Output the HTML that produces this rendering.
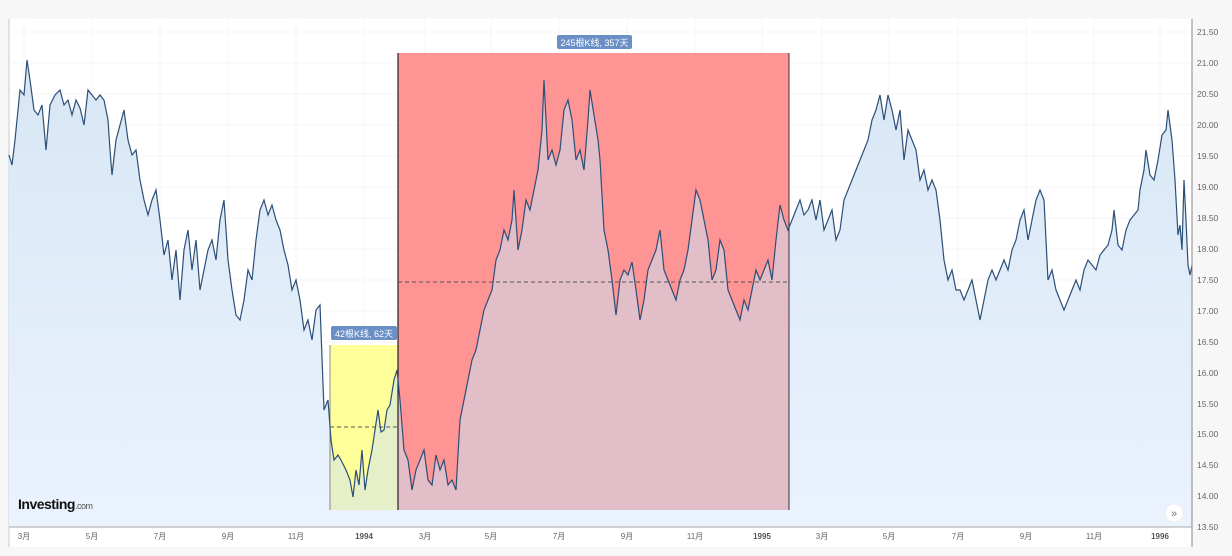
<!DOCTYPE html>
<html><head><meta charset="utf-8"><style>
html,body{margin:0;padding:0;width:1232px;height:556px;background:#f7f7f7;overflow:hidden;font-family:"Liberation Sans","Noto Sans CJK SC",sans-serif}
</style></head><body>
<svg width="1232" height="556" xmlns="http://www.w3.org/2000/svg" style="position:absolute;left:0;top:0">
<defs>
<linearGradient id="g" x1="0" y1="0" x2="0" y2="1"><stop offset="0" stop-color="#d8e6f4"/><stop offset="1" stop-color="#eaf3fe"/></linearGradient>
<clipPath id="cy"><rect x="330" y="345" width="68" height="165"/></clipPath>
<clipPath id="cr"><rect x="398" y="53" width="391" height="457"/></clipPath>
<path id="ln" d="M9,155 L12,165 L15,140 L20,90 L24,95 L27,60 L30,80 L34,110 L38,115 L42,105 L46,150 L50,105 L55,95 L60,90 L64,105 L68,100 L72,115 L76,100 L80,108 L84,125 L88,90 L92,95 L96,100 L100,95 L104,100 L108,120 L110,150 L112,175 L116,140 L120,125 L124,110 L128,140 L132,155 L136,150 L140,180 L144,200 L148,215 L152,200 L156,190 L160,220 L164,255 L168,240 L172,280 L176,250 L180,300 L184,250 L188,230 L192,270 L196,240 L200,290 L204,270 L208,250 L212,240 L216,260 L220,220 L224,200 L228,260 L232,290 L236,315 L240,320 L244,300 L248,270 L252,280 L256,240 L260,210 L264,200 L268,215 L272,205 L276,220 L280,230 L284,250 L288,265 L292,290 L296,280 L300,300 L304,330 L308,320 L312,340 L316,310 L320,305 L324,410 L328,400 L331,440 L334,460 L338,455 L342,462 L346,470 L350,480 L353,497 L356,470 L359,485 L362,450 L365,490 L368,470 L372,450 L375,430 L378,410 L381,432 L384,430 L387,410 L390,405 L394,380 L397,370 L400,400 L404,450 L408,460 L412,490 L416,470 L420,460 L424,450 L428,480 L432,485 L436,455 L440,470 L444,460 L448,485 L452,480 L456,490 L460,420 L464,400 L468,380 L472,360 L476,350 L480,330 L484,310 L488,300 L492,290 L496,260 L500,250 L504,230 L508,240 L512,220 L514,190 L518,250 L522,230 L526,200 L530,210 L534,190 L538,170 L542,130 L544,80 L548,160 L552,150 L556,165 L560,150 L564,110 L568,100 L572,120 L576,160 L580,150 L584,170 L588,120 L590,90 L594,115 L598,140 L600,160 L604,230 L608,250 L612,280 L616,315 L620,280 L624,270 L628,275 L632,262 L636,290 L640,320 L644,300 L648,270 L652,260 L656,250 L660,230 L664,270 L668,280 L672,290 L676,300 L680,280 L684,270 L688,250 L692,220 L696,190 L700,200 L704,220 L708,240 L712,280 L716,270 L720,240 L724,250 L728,290 L732,300 L736,310 L740,320 L744,300 L748,310 L752,290 L756,270 L760,280 L764,270 L768,260 L772,280 L776,240 L780,205 L784,220 L788,230 L792,220 L796,210 L800,200 L804,215 L808,210 L812,200 L816,220 L820,200 L824,230 L828,220 L832,210 L836,240 L840,230 L844,200 L848,190 L852,180 L856,170 L860,160 L864,150 L868,140 L872,120 L876,110 L880,95 L884,120 L888,95 L892,110 L896,130 L900,110 L904,160 L908,130 L912,140 L916,150 L920,180 L924,170 L928,190 L932,180 L936,190 L940,220 L944,260 L948,280 L952,270 L956,290 L960,290 L964,300 L968,290 L972,280 L976,300 L980,320 L984,300 L988,280 L992,270 L996,280 L1000,270 L1004,260 L1008,270 L1012,250 L1016,240 L1020,220 L1024,210 L1028,240 L1032,220 L1036,200 L1040,190 L1044,200 L1048,280 L1052,270 L1056,290 L1060,300 L1064,310 L1068,300 L1072,290 L1076,280 L1080,290 L1084,270 L1088,260 L1092,265 L1096,270 L1100,255 L1104,250 L1108,245 L1112,230 L1114,210 L1118,245 L1122,250 L1126,230 L1130,220 L1134,215 L1138,210 L1140,190 L1144,170 L1146,150 L1150,175 L1154,180 L1158,160 L1162,135 L1166,130 L1168,110 L1172,140 L1175,180 L1178,235 L1180,225 L1182,250 L1184,180 L1186,220 L1188,265 L1190,275 L1192,265"/>
</defs>
<rect x="9" y="19" width="1183" height="528" fill="#fff"/>
<line x1="9" y1="19" x2="9" y2="547" stroke="#dde3ea" stroke-width="2"/>
<g stroke="#f4f4f4" stroke-width="1">
<line x1="9" y1="32" x2="1192" y2="32"/><line x1="9" y1="63" x2="1192" y2="63"/><line x1="9" y1="94" x2="1192" y2="94"/><line x1="9" y1="125" x2="1192" y2="125"/><line x1="9" y1="156" x2="1192" y2="156"/><line x1="9" y1="187" x2="1192" y2="187"/><line x1="9" y1="218" x2="1192" y2="218"/><line x1="9" y1="249" x2="1192" y2="249"/><line x1="9" y1="280" x2="1192" y2="280"/><line x1="9" y1="311" x2="1192" y2="311"/><line x1="9" y1="342" x2="1192" y2="342"/><line x1="9" y1="373" x2="1192" y2="373"/><line x1="9" y1="404" x2="1192" y2="404"/><line x1="9" y1="434" x2="1192" y2="434"/><line x1="9" y1="465" x2="1192" y2="465"/><line x1="9" y1="496" x2="1192" y2="496"/>
<line x1="24" y1="19" x2="24" y2="527"/><line x1="92" y1="19" x2="92" y2="527"/><line x1="160" y1="19" x2="160" y2="527"/><line x1="228" y1="19" x2="228" y2="527"/><line x1="296" y1="19" x2="296" y2="527"/><line x1="364" y1="19" x2="364" y2="527"/><line x1="425" y1="19" x2="425" y2="527"/><line x1="491" y1="19" x2="491" y2="527"/><line x1="559" y1="19" x2="559" y2="527"/><line x1="627" y1="19" x2="627" y2="527"/><line x1="695" y1="19" x2="695" y2="527"/><line x1="762" y1="19" x2="762" y2="527"/><line x1="822" y1="19" x2="822" y2="527"/><line x1="889" y1="19" x2="889" y2="527"/><line x1="958" y1="19" x2="958" y2="527"/><line x1="1026" y1="19" x2="1026" y2="527"/><line x1="1094" y1="19" x2="1094" y2="527"/><line x1="1160" y1="19" x2="1160" y2="527"/>
</g>
<g id="areaG">
<svg x="0" y="0" width="1232" height="556" overflow="visible">
<use href="#ln" fill="none"/>
</svg>
</g>
<path id="ar" fill="url(#g)" d=""/>
<script>
(function(){
var d=document.getElementById('ln').getAttribute('d');
var a=d+' L1192,527 L9,527 Z';
var ns='http://www.w3.org/2000/svg';
document.getElementById('ar').setAttribute('d',a);
var y=document.getElementById('ay');var r=document.getElementById('arr');
})();
</script>
<rect x="330" y="345" width="68" height="165" fill="#ffff99"/>
<rect x="398" y="53" width="391" height="457" fill="#ff9494"/>
<g clip-path="url(#cy)"><path id="ay" fill="#e6f0c8" d=""/></g>
<g clip-path="url(#cr)"><path id="arr" fill="#e2bec8" d=""/></g>
<script>
(function(){
var d=document.getElementById('ln').getAttribute('d')+' L1192,527 L9,527 Z';
document.getElementById('ay').setAttribute('d',d);
document.getElementById('arr').setAttribute('d',d);
})();
</script>
<line x1="330" y1="345" x2="330" y2="510" stroke="#888" stroke-width="1"/>
<line x1="398" y1="53" x2="398" y2="510" stroke="#222" stroke-width="1.2"/>
<line x1="789" y1="53" x2="789" y2="510" stroke="#333" stroke-width="1"/>
<line x1="330" y1="427" x2="398" y2="427" stroke="#555" stroke-dasharray="4,3"/>
<line x1="398" y1="282" x2="789" y2="282" stroke="#555" stroke-dasharray="4,3"/>
<use href="#ln" fill="none" stroke="#2c4f78" stroke-width="1.2"/>
<rect x="331" y="326" width="66" height="14" rx="2" fill="#6a8fc5"/>
<text x="364" y="337" font-size="9" fill="#fff" text-anchor="middle">42根K线, 62天</text>
<rect x="557" y="35" width="75" height="14" rx="2" fill="#6a8fc5"/>
<text x="594.5" y="46" font-size="9" fill="#fff" text-anchor="middle">245根K线, 357天</text>
<line x1="1192" y1="19" x2="1192" y2="547" stroke="#888"/>
<line x1="9" y1="527" x2="1192" y2="527" stroke="#aaa"/>
<g font-size="8.5" fill="#666">
<text x="1197" y="35">21.50</text><text x="1197" y="66">21.00</text><text x="1197" y="97">20.50</text><text x="1197" y="128">20.00</text><text x="1197" y="159">19.50</text><text x="1197" y="190">19.00</text><text x="1197" y="221">18.50</text><text x="1197" y="252">18.00</text><text x="1197" y="283">17.50</text><text x="1197" y="314">17.00</text><text x="1197" y="345">16.50</text><text x="1197" y="376">16.00</text><text x="1197" y="407">15.50</text><text x="1197" y="437">15.00</text><text x="1197" y="468">14.50</text><text x="1197" y="499">14.00</text><text x="1197" y="530">13.50</text>
</g>
<g font-size="8" fill="#666" text-anchor="middle">
<text x="24" y="539">3月</text><text x="92" y="539">5月</text><text x="160" y="539">7月</text><text x="228" y="539">9月</text><text x="296" y="539">11月</text><text x="364" y="539" font-weight="bold" fill="#555">1994</text><text x="425" y="539">3月</text><text x="491" y="539">5月</text><text x="559" y="539">7月</text><text x="627" y="539">9月</text><text x="695" y="539">11月</text><text x="762" y="539" font-weight="bold" fill="#555">1995</text><text x="822" y="539">3月</text><text x="889" y="539">5月</text><text x="958" y="539">7月</text><text x="1026" y="539">9月</text><text x="1094" y="539">11月</text><text x="1160" y="539" font-weight="bold" fill="#555">1996</text>
</g>
<text x="18" y="509" font-size="14" font-weight="bold" fill="#111" letter-spacing="-0.5">Investing<tspan font-size="9" font-weight="normal" fill="#555">.com</tspan></text>
<circle cx="1174" cy="513" r="9" fill="#fff" stroke="#eee"/>
<text x="1174" y="517" font-size="11" fill="#777" text-anchor="middle">»</text>
</svg>
</body></html>
